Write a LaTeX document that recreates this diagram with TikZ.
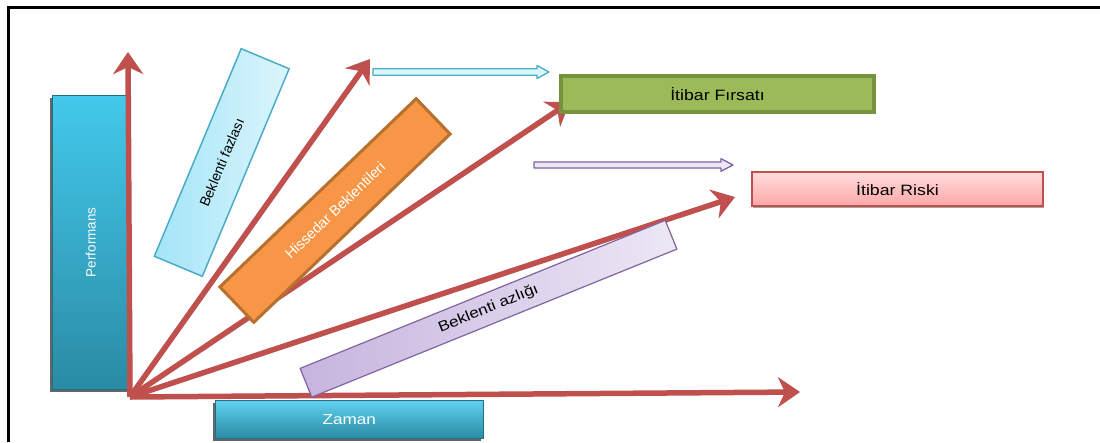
\documentclass[tikz,border=0pt]{standalone}
\usepackage{fontspec}
\setmainfont{Liberation Sans}
\newfontfamily\widesans[FakeStretch=1.18]{Liberation Sans}
\usetikzlibrary{arrows.meta,shadows}

\definecolor{arrowred}{HTML}{C0504D}
\definecolor{tealtop}{HTML}{43C9EC}
\definecolor{tealbot}{HTML}{2A8BA4}
\definecolor{cyanedge}{HTML}{4BACC6}
\definecolor{cyanlight}{HTML}{DCF5FC}
\definecolor{cyandeep}{HTML}{A3E5F8}
\definecolor{orangefill}{HTML}{F79646}
\definecolor{orangeedge}{HTML}{B8702F}
\definecolor{purpleedge}{HTML}{8064A2}
\definecolor{purpledeep}{HTML}{C6B4DE}
\definecolor{purplelight}{HTML}{EDE7F5}
\definecolor{greenfill}{HTML}{9BBB59}
\definecolor{greenedge}{HTML}{76923C}
\definecolor{pinktop}{HTML}{FFDCDC}
\definecolor{pinkbot}{HTML}{FFA7A7}

\begin{document}
\begin{tikzpicture}[x=1pt,y=-1pt,
  redarrow/.style={draw=arrowred, line width=5.5pt,
    -{Stealth[length=22pt,width=30pt,inset=7pt]}},
  tealbar/.style={rectangle, inner sep=0pt, top color=tealtop, bottom color=tealbot,
    draw=tealbot!80!black, line width=0.6pt,
    drop shadow={shadow xshift=-2.5pt, shadow yshift=-3pt, fill=black!75, opacity=0.8},
    text=white},
  slantbox/.style={rectangle, inner sep=0pt, align=center},
  hollowarrow/.style={line width=1.3pt, line join=round},
  itibarbox/.style={rectangle, inner sep=0pt, text=black,
    drop shadow={shadow xshift=1pt, shadow yshift=-1.5pt, fill=black!60, opacity=0.6}}
]
\useasboundingbox (0,0) rectangle (1100,442);
\fill[white] (0,0) rectangle (1100,442);

% outer frame (left and top edges)
\draw[line width=3pt] (8,442) -- (8,7) -- (1100,7);

% origin and arrow ends
\coordinate (O) at (130,397);
\coordinate (tUp) at (128,52);
\coordinate (tHigh) at (370,59);
\coordinate (tMid) at (570,102);
\coordinate (tLow) at (735,197);
\coordinate (tTime) at (800,392);

% performance axis bar
\node[tealbar, minimum width=77pt, minimum height=294pt, anchor=north west] (perf) at (52,95) {};
\node[rotate=90, text=white, font=\fontsize{13.5}{16}\selectfont] (perftxt)
      at (perf.center) {Performans};

% fan of arrows from the origin
\draw[redarrow] (O) -- (tUp);
\draw[redarrow] (O) -- (tHigh);
\draw[redarrow] (O) -- (tMid);
\draw[redarrow] (O) -- (tLow);
\draw[redarrow] (O) -- (tTime);

% slanted label boxes
\node[slantbox, rotate=67.3, minimum width=225pt, minimum height=52pt,
      left color=cyandeep, right color=cyanlight, draw=cyanedge, line width=1.5pt,
      font=\fontsize{14}{16}\selectfont] (fazla) at (221.75,162.5) {Beklenti fazlası};

\node[slantbox, rotate=43.8, minimum width=272pt, minimum height=49pt,
      fill=orangefill, draw=orangeedge, line width=3pt, text=white,
      font=\fontsize{14.5}{16}\selectfont] (hissedar) at (335,210.5) {Hissedar Beklentileri};

\node[slantbox, rotate=22.07, minimum width=394pt, minimum height=31pt,
      left color=purpledeep, right color=purplelight, draw=purpleedge, line width=1.2pt,
      font=\widesans\fontsize{14.5}{16}\selectfont] (azlik) at (488.5,308.75) {Beklenti azlığı};

% time axis bar
\node[tealbar, minimum width=268pt, minimum height=38pt, anchor=north west,
      top color=tealtop!85!white, font=\widesans\fontsize{14.5}{16}\selectfont]
      (zaman) at (215,400) {Zaman};

% outcome boxes
\node[itibarbox, minimum width=313pt, minimum height=36pt, anchor=north west,
      fill=greenfill, draw=greenedge, line width=4pt,
      font=\widesans\fontsize{15}{17}\selectfont] (firsat) at (559,74) {İtibar Fırsatı};

\node[itibarbox, minimum width=291pt, minimum height=34pt, anchor=north west,
      top color=pinktop, bottom color=pinkbot, draw=arrowred, line width=2pt,
      font=\widesans\fontsize{15}{17}\selectfont] (risk) at (751,171) {İtibar Riski};

% hollow pointers towards the outcome boxes
\coordinate (ptrUp) at (373,72);
\coordinate (ptrDown) at (534,165);
\draw[hollowarrow, draw=cyanedge, fill=cyanlight]
  (ptrUp) ++(0,-3.2) -- ++(164,0) -- ++(0,-3.3) -- ++(12,6.5) -- ++(-12,6.5)
  -- ++(0,-3.3) -- ++(-164,0) -- cycle;
\draw[hollowarrow, draw=purpleedge, fill=purplelight]
  (ptrDown) ++(0,-3) -- ++(187,0) -- ++(0,-3.3) -- ++(12,6.3) -- ++(-12,6.3)
  -- ++(0,-3.3) -- ++(-187,0) -- cycle;
\end{tikzpicture}
\end{document}
